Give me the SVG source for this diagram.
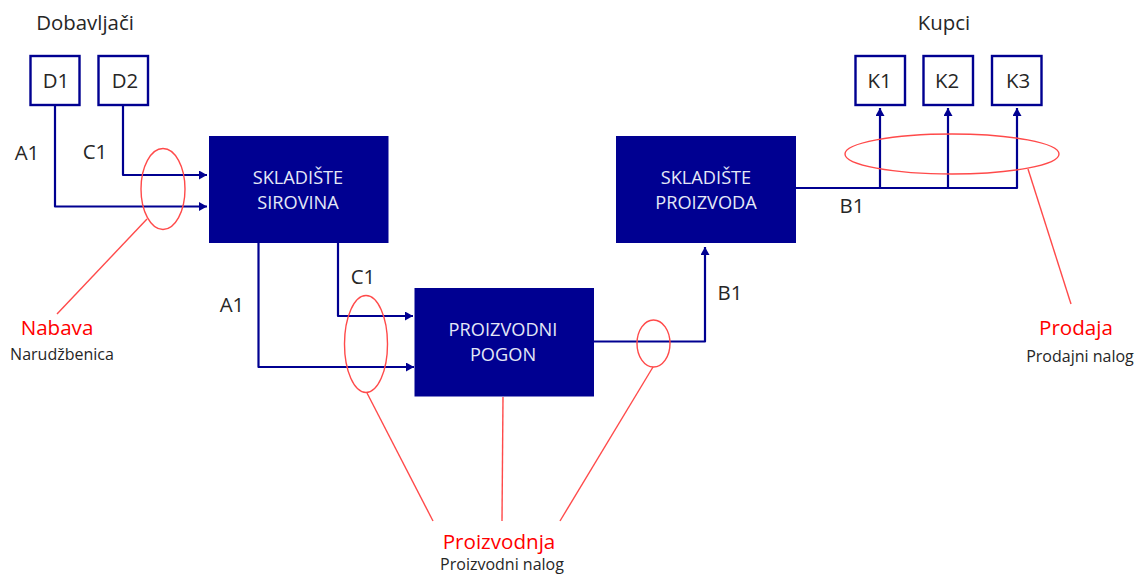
<svg xmlns="http://www.w3.org/2000/svg" width="1136" height="575" viewBox="0 0 1136 575">
<style>
text{font-family:"Open Sans","Noto Sans","Liberation Sans",sans-serif;fill:#262626;text-anchor:middle}
.lbl{font-size:20.4px}
.box{fill:#fff;stroke:#000091;stroke-width:2.4}
.blk{fill:#000091}
.blk-t{font-size:18.2px;fill:#e4e8f7}
.conn{fill:none;stroke:#000091;stroke-width:2.2;stroke-linejoin:round}
.red{fill:none;stroke:#ff4a4a;stroke-width:1.4}
.rt{font-size:20.6px;fill:#ff0000}
.st{font-size:16px}
</style>
<defs><marker id="a" markerUnits="userSpaceOnUse" markerWidth="9" markerHeight="9" refX="8" refY="4.5" orient="auto"><path d="M0 0L8 4.5L0 9Z" fill="#000091"/></marker></defs>
<g id="connectors">
<path class="conn" marker-end="url(#a)" d="M55 105V206.500H207"/>
<path class="conn" marker-end="url(#a)" d="M123 105V175H207"/>
<path class="conn" marker-end="url(#a)" d="M258.500 243V367H414"/>
<path class="conn" marker-end="url(#a)" d="M338 243V316H413"/>
<path class="conn" marker-end="url(#a)" d="M594 341.500H705V247"/>
<path class="conn" marker-end="url(#a)" d="M796 188H1017V108"/>
<path class="conn" marker-end="url(#a)" d="M880 188V108"/>
<path class="conn" marker-end="url(#a)" d="M948 188V108"/>
</g>
<g id="D1"><rect class="box" x="30.500" y="56" width="49" height="49"/><text class="lbl" x="56" y="88">D1</text></g>
<g id="D2"><rect class="box" x="98.500" y="56" width="49.500" height="49"/><text class="lbl" x="125" y="88">D2</text></g>
<g id="K1"><rect class="box" x="855.500" y="56" width="49.500" height="49"/><text class="lbl" x="879.500" y="88">K1</text></g>
<g id="K2"><rect class="box" x="923.500" y="56" width="49.500" height="49"/><text class="lbl" x="947" y="88">K2</text></g>
<g id="K3"><rect class="box" x="992" y="56" width="49.500" height="49"/><text class="lbl" x="1018" y="88">K3</text></g>
<g id="skladiste-sirovina"><rect class="blk" x="209" y="136" width="179.500" height="107"/><text class="blk-t" x="298" y="184">SKLADIŠTE</text><text class="blk-t" x="298" y="209">SIROVINA</text></g>
<g id="skladiste-proizvoda"><rect class="blk" x="616" y="136" width="180" height="107"/><text class="blk-t" x="706" y="184">SKLADIŠTE</text><text class="blk-t" x="706" y="209">PROIZVODA</text></g>
<g id="proizvodni-pogon"><rect class="blk" x="414.500" y="288" width="179.500" height="108.500"/><text class="blk-t" x="503" y="336">PROIZVODNI</text><text class="blk-t" x="503" y="361">POGON</text></g>
<g id="ellipses">
<ellipse class="red" cx="163" cy="189" rx="22" ry="40.500"/>
<ellipse class="red" cx="366" cy="344" rx="21.500" ry="48.500"/>
<ellipse class="red" cx="653.500" cy="343.500" rx="16.500" ry="23.500"/>
<ellipse class="red" cx="952" cy="154" rx="107" ry="20"/>
</g>
<g id="leaders">
<path class="red" d="M147 219L57 314"/>
<path class="red" d="M367 393L433 521"/>
<path class="red" d="M503 397L502 521"/>
<path class="red" d="M653 367L560 521"/>
<path class="red" d="M1028 169L1071 304"/>
</g>
<g id="labels">
<text class="lbl" x="85" y="30">Dobavljači</text>
<text class="lbl" x="944" y="30">Kupci</text>
<text class="lbl" x="27" y="160">A1</text>
<text class="lbl" x="95" y="159">C1</text>
<text class="lbl" x="232" y="312">A1</text>
<text class="lbl" x="363" y="284">C1</text>
<text class="lbl" x="730" y="300">B1</text>
<text class="lbl" x="852" y="213">B1</text>
<text class="rt" x="57" y="335">Nabava</text>
<text class="st" x="62" y="360">Narudžbenica</text>
<text class="rt" x="499" y="549">Proizvodnja</text>
<text class="st" x="502" y="570">Proizvodni nalog</text>
<text class="rt" x="1076" y="335">Prodaja</text>
<text class="st" x="1080" y="362">Prodajni nalog</text>
</g>
</svg>
